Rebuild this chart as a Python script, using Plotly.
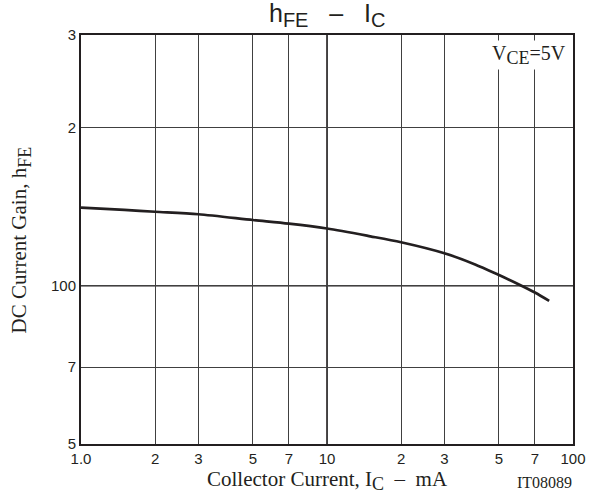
import plotly.graph_objects as go

# Data
ic_mA = [1.0, 1.5, 2, 3, 5, 7, 10, 15, 20, 30, 40, 50, 60, 70, 80]
hfe = [140.8, 139.4, 138.3, 136.8, 133.4, 131.3, 128.5, 124.2, 121.0, 115.3, 109.8, 104.8, 100.7, 97.1, 93.6]

x_tickvals = [1, 2, 3, 5, 7, 10, 20, 30, 50, 70, 100]
x_ticktext = ["1.0", "2", "3", "5", "7", "10", "2", "3", "5", "7", "100"]
y_tickvals = [50, 70, 100, 200, 300]
y_ticktext = ["5", "7", "100", "2", "3"]
x_decades = [10]
y_decades = [100]

ink = "#231f20"
grid = "#404040"
sans = "Liberation Sans, Arial, sans-serif"
serif = "Liberation Serif, Times New Roman, serif"

fig = go.Figure()
fig.add_trace(go.Scatter(
    x=ic_mA, y=hfe, mode="lines",
    line=dict(color=ink, width=2.7, shape="spline", smoothing=0.8),
    hoverinfo="skip", showlegend=False,
))

shapes = []
for xv in x_decades:
    shapes.append(dict(type="line", xref="x", yref="paper", x0=xv, x1=xv, y0=0, y1=1,
                       line=dict(color=ink, width=1.6), layer="below"))
for yv in y_decades:
    shapes.append(dict(type="line", xref="paper", yref="y", x0=0, x1=1, y0=yv, y1=yv,
                       line=dict(color=ink, width=1.6), layer="below"))

fig.update_layout(
    width=590, height=495,
    margin=dict(l=81, r=17, t=35, b=51, autoexpand=False),
    paper_bgcolor="white", plot_bgcolor="white",
    shapes=shapes,
    xaxis=dict(type="log", range=[0, 2], tickvals=x_tickvals, ticktext=x_ticktext,
               showgrid=True, gridcolor=grid, gridwidth=1,
               showline=True, linecolor=ink, linewidth=2, mirror=True,
               ticks="", zeroline=False, automargin=False,
               tickfont=dict(family=sans, size=15, color=ink)),
    yaxis=dict(type="log", range=[1.69897, 2.4771], tickvals=y_tickvals, ticktext=y_ticktext,
               showgrid=True, gridcolor=grid, gridwidth=1,
               showline=True, linecolor=ink, linewidth=2, mirror=True,
               ticks="", zeroline=False, automargin=False,
               tickfont=dict(family=sans, size=15, color=ink)),
    annotations=[
        dict(text="h<sub><span style='font-size:20px'>FE</span></sub>   –   I<sub><span style='font-size:20px'>C</span></sub>",
             xref="paper", yref="paper", x=0.5, y=1.05, xanchor="center", yanchor="middle",
             showarrow=False, font=dict(family=sans, size=25, color=ink)),
        dict(text="V<sub><span style='font-size:18px'>CE</span></sub>=5V", xref="paper", yref="paper",
             x=0.99, y=0.95, xanchor="right", yanchor="middle", showarrow=False,
             bgcolor="white", borderpad=1, font=dict(family=serif, size=20, color=ink)),
        dict(text="Collector Current, I<sub><span style='font-size:18px'>C</span></sub>  –  mA",
             xref="paper", yref="paper", x=0.5, y=-0.09, xanchor="center", yanchor="middle",
             showarrow=False, font=dict(family=serif, size=21, color=ink)),
        dict(text="DC Current Gain, h<sub><span style='font-size:18px'>FE</span></sub>",
             xref="paper", yref="paper", x=-0.122, y=0.5, xanchor="center", yanchor="middle",
             textangle=-90, showarrow=False, font=dict(family=serif, size=21, color=ink)),
        dict(text="IT08089", xref="paper", yref="paper", x=1.003, y=-0.095,
             xanchor="right", yanchor="middle", showarrow=False,
             font=dict(family=serif, size=16, color=ink)),
    ],
)

fig.write_html("out.html", config={"displayModeBar": False},
               post_script="document.body.style.margin='0';document.body.style.overflow='hidden';")
